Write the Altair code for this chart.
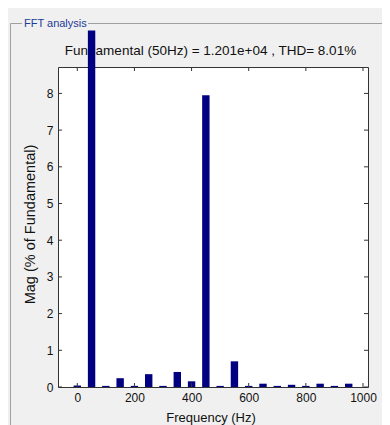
import altair as alt
import pandas as pd

# ---- data ----
freqs = [0, 50, 100, 150, 200, 250, 300, 350, 400, 450,
         500, 550, 600, 650, 700, 750, 800, 850, 900, 950]
mags = [0.04, 100.0, 0.03, 0.24, 0.03, 0.35, 0.03, 0.41, 0.155, 7.95,
        0.03, 0.70, 0.03, 0.09, 0.03, 0.06, 0.03, 0.09, 0.03, 0.09]
x_ticks = [0, 200, 400, 600, 800, 1000]
y_ticks = [0, 1, 2, 3, 4, 5, 6, 7, 8]
title_text = ["Fundamental (50Hz) = 1.201e+04 , THD= 8.01%"]
panel_title = ["FFT analysis"]

W, H = 310, 320
FONT = "Liberation Sans"
BG = "#f0f0f0"
BAR = "#000080"
FRAME = "#333333"

bars_df = pd.DataFrame({"freq": freqs, "mag": mags})
xt_df = pd.DataFrame({"freq": x_ticks})
yt_df = pd.DataFrame({"mag": y_ticks})
one = pd.DataFrame({"k": [0]})

xs = alt.Scale(domain=[-50, 1000], nice=False, zero=False)
ys = alt.Scale(domain=[0, 8.72], nice=False, zero=True)
xaxis = alt.Axis(values=x_ticks, format="d", title="Frequency (Hz)", grid=False, ticks=False,
                 domain=False, labelPadding=5, labelFontSize=12, labelFont=FONT,
                 labelColor="#111111", titleFont=FONT, titleFontSize=13,
                 titleFontWeight="normal", titleColor="#111111",
                 titleX=152.5, titleY=30.5, titleBaseline="middle")
yaxis = alt.Axis(values=y_ticks, format="d", title="Mag (% of Fundamental)", grid=False, ticks=False,
                 domain=False, labelPadding=5, labelFontSize=12, labelFont=FONT,
                 labelColor="#111111", titleFont=FONT, titleFontSize=14.5,
                 titleFontWeight="normal", titleColor="#111111",
                 titleX=-28, titleY=157, titleBaseline="middle")

X = alt.X("freq:Q", scale=xs, axis=xaxis)
Y = alt.Y("mag:Q", scale=ys, axis=yaxis)

title_layer = alt.Chart(pd.DataFrame({"t": title_text})).mark_text(
    font=FONT, fontSize=13.5, color="#111111", align="center", baseline="alphabetic"
).encode(x=alt.value(152.5), y=alt.value(-12.3), text="t:N")

bars = alt.Chart(bars_df).mark_bar(size=7.4, color=BAR, clip=False).encode(x=X, y=Y)

xt_bottom = alt.Chart(xt_df).mark_rule(color=FRAME).encode(
    x=X, y=alt.value(H), y2=alt.value(H - 4))
xt_top = alt.Chart(xt_df).mark_rule(color=FRAME).encode(
    x=X, y=alt.value(0), y2=alt.value(4))
yt_left = alt.Chart(yt_df).mark_rule(color=FRAME).encode(
    y=Y, x=alt.value(0), x2=alt.value(4))
yt_right = alt.Chart(yt_df).mark_rule(color=FRAME).encode(
    y=Y, x=alt.value(W), x2=alt.value(W - 4))

cover = alt.Chart(one).mark_rect(color=BG).encode(
    x=alt.value(-50), x2=alt.value(330), y=alt.value(-60), y2=alt.value(-36.5))

line_a = alt.Chart(one).mark_rule(color="#a0a0a0").encode(
    x=alt.value(-47.5), x2=alt.value(-36), y=alt.value(-43.5))
line_b = alt.Chart(one).mark_rule(color="#a0a0a0").encode(
    x=alt.value(30), x2=alt.value(330), y=alt.value(-43.5))
line_c = alt.Chart(one).mark_rule(color="#a0a0a0").encode(
    x=alt.value(-47.5), y=alt.value(-43.5), y2=alt.value(360))

panel_lbl = alt.Chart(pd.DataFrame({"t": panel_title})).mark_text(
    font=FONT, fontSize=11, color="#1e3c96", align="left", baseline="alphabetic"
).encode(x=alt.value(-34), y=alt.value(-40.5), text="t:N")

chart = alt.layer(
    title_layer, bars, xt_bottom, xt_top, yt_left, yt_right,
    cover, line_a, line_b, line_c, panel_lbl
).properties(
    width=W, height=H,
    autosize=alt.AutoSizeParams(type="none"),
    padding={"left": 50, "top": 59, "right": 14, "bottom": 38},
    background=BG,
).configure_view(
    fill="white", stroke=FRAME, strokeWidth=1
)

chart.save("out.html", embed_options={"renderer": "svg", "actions": False})
